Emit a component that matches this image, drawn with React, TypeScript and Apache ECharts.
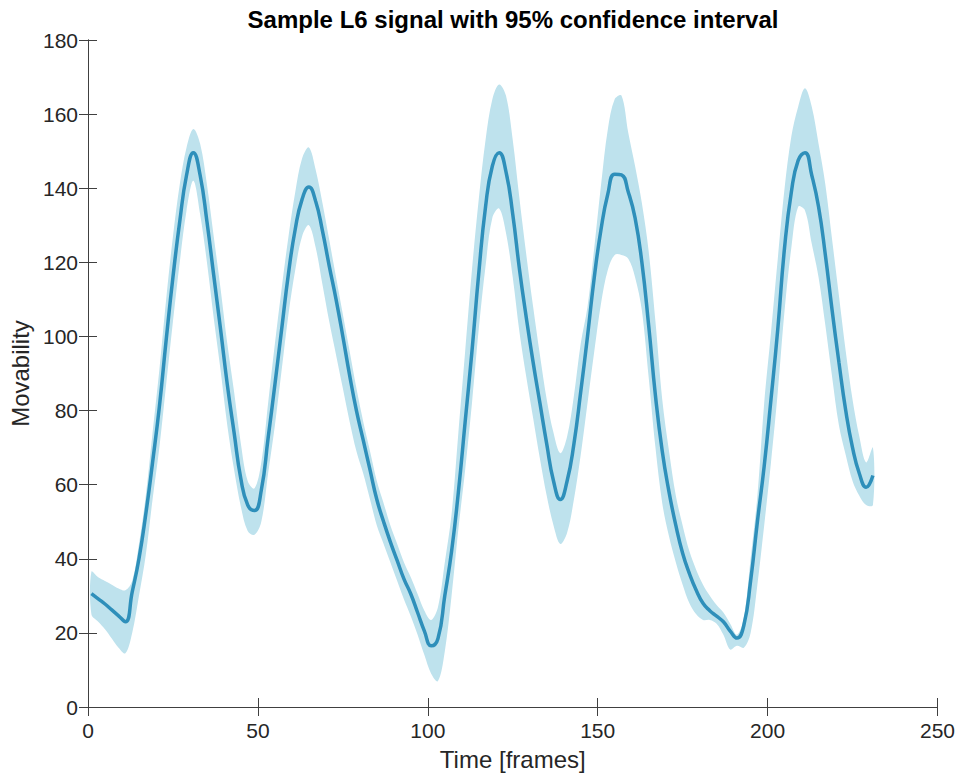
import React, { useEffect, useRef } from "react";
import * as echarts from "echarts";

// Sampled frame positions (every 2 frames)
const frames = [
  1, 3, 5, 7, 9, 11, 13, 15, 17, 19, 21, 23, 25, 27, 29, 31, 33, 35, 37, 39, 41, 43, 45, 47, 49,
  51, 53, 55, 57, 59, 61, 63, 65, 67, 69, 71, 73, 75, 77, 79, 81, 83, 85, 87, 89, 91, 93, 95, 97, 99,
  101, 103, 105, 107, 109, 111, 113, 115, 117, 119, 121, 123, 125, 127, 129, 131, 133, 135, 137,
  139, 141, 143, 145, 147, 149, 151, 153, 155, 157, 159, 161, 163, 165, 167, 169, 171, 173, 175,
  177, 179, 181, 183, 185, 187, 189, 191, 193, 195, 197, 199, 201, 203, 205, 207, 209, 211, 213, 215,
  217, 219, 221, 223, 225, 227, 229, 231,
];

// Mean L6 signal (movability)
const meanSignal = [
  30.6, 29.2, 27.8, 26.2, 24.6, 23.0, 31, 40, 52, 66, 81, 99, 116, 131, 143.5, 149.6, 143.5, 131, 116.5, 102, 87, 74, 61.5, 54.5, 53,
  58.5, 72.5, 87, 102, 117, 129, 137, 140.3, 136.5, 128.5, 119, 110, 100, 89.5, 80, 72, 64, 56, 50, 44.5, 39.5, 34.5, 30.5, 25.5, 20.5,
  16.5, 18.5, 30, 42, 58, 77, 96, 117, 135, 146, 149.6, 144.5, 133, 118, 105, 93, 82, 71, 61,
  56, 61, 71, 85, 100, 116, 129, 138.5, 143.8, 143.6, 139, 132, 120, 103, 84, 69, 58, 49, 41.5,
  36, 31.5, 28, 26, 24.5, 23, 20.5, 18.6, 22, 34, 50, 65, 83, 102, 124, 139, 147.5, 149.6, 143.5, 135,
  122, 107, 93, 80, 70, 63, 59.3, 62.5,
];

// Lower bound of the 95% confidence interval
const lowerBound = [
  25, 23, 21, 18.5, 16, 14.5, 20, 30, 41, 56, 70, 87, 104, 120, 134, 142, 133, 120, 105, 91, 76, 64, 54, 47.5, 46.5,
  50, 63, 76, 91, 106, 118, 127, 130, 124, 114, 104, 95, 86, 77, 69, 63, 56, 49, 44, 39, 34, 29, 24.5, 19.5, 14,
  9, 7, 15, 30, 48, 64, 82, 102, 119, 132, 134.5, 128, 116, 101, 89, 78, 67, 57, 49,
  44, 47, 56, 68, 82, 96, 109, 118, 122, 122, 121, 116, 107, 89, 70, 55, 46, 39, 33,
  28, 25, 23.5, 23.5, 22.5, 19.5, 15.5, 16.5, 16, 20, 33, 49, 66, 85, 107, 124, 135, 134, 125, 116,
  103, 89, 76, 68, 61, 57, 54.5, 54.5,
];

// Upper bound of the 95% confidence interval
const upperBound = [
  36.5, 35, 34, 33, 32, 31.5, 34, 44, 57, 74, 91, 110, 127, 141, 151, 156, 152, 141, 127, 113, 98, 85, 71, 61, 59,
  66, 82, 98, 113, 127, 139, 148, 151, 145, 136, 126, 116, 106, 96, 86, 77, 69, 61, 55, 49, 44, 39, 35, 30.5, 26,
  23.5, 27, 39, 52, 74, 96, 118, 137, 153, 164, 168, 165, 153, 137, 122, 108, 95, 83, 74,
  68.5, 73, 84, 98, 108, 124, 141, 156, 164, 165, 155, 146, 136, 123, 104, 83, 69, 57, 49,
  42, 37, 33, 30, 27.5, 25.5, 22.5, 19.5, 24, 40, 57, 82, 101, 121, 140, 154, 162, 167, 162, 152,
  141, 126, 111, 96, 83, 73, 66, 70,
];

const xTickValues = [0, 50, 100, 150, 200, 250];
const yTickValues = [0, 20, 40, 60, 80, 100, 120, 140, 160, 180];

const FONT = "'Liberation Sans', Arial, Helvetica, sans-serif";
const AXIS_COLOR = "#404040";
const TEXT_COLOR = "#262626";
const LINE_COLOR = "#2e8fba";
const BAND_COLOR = "#bee2ed";

export default function App() {
  const ref = useRef<HTMLDivElement>(null);

  useEffect(() => {
    document.body.style.margin = "0";
    if (!ref.current) return;
    const chart = echarts.init(ref.current, undefined, { renderer: "svg" });

    const meanPairs = frames.map((f, i) => [f, meanSignal[i]]);

    const xMin = xTickValues[0];
    const xMax = xTickValues[xTickValues.length - 1];
    const xInt = xTickValues[1] - xTickValues[0];
    const yMin = yTickValues[0];
    const yMax = yTickValues[yTickValues.length - 1];
    const yInt = yTickValues[1] - yTickValues[0];

    const baseAxis = {
      axisLine: { show: true, lineStyle: { color: AXIS_COLOR, width: 1 } },
      axisTick: { show: true, inside: true, length: 9, lineStyle: { color: AXIS_COLOR, width: 1 } },
      splitLine: { show: false },
    };

    chart.setOption({
      animation: false,
      backgroundColor: "#ffffff",
      graphic: [
        {
          type: "text",
          x: 513,
          y: 19,
          style: {
            text: "Sample L6 signal with 95% confidence interval",
            align: "center",
            verticalAlign: "middle",
            font: `bold 24px ${FONT}`,
            fill: "#000000",
          },
        },
      ],
      grid: { left: 88, right: 20, top: 40, bottom: 65, containLabel: false },
      xAxis: [
        {
          ...baseAxis,
          type: "value",
          position: "bottom",
          min: xMin,
          max: xMax,
          interval: xInt,
          name: "Time [frames]",
          nameLocation: "middle",
          nameGap: 40,
          nameTextStyle: { color: TEXT_COLOR, fontSize: 24, fontFamily: FONT },
          axisLabel: { color: TEXT_COLOR, fontSize: 21, fontFamily: FONT, margin: 13 },
        },
        {
          ...baseAxis,
          type: "value",
          position: "top",
          min: xMin,
          max: xMax,
          interval: xInt,
          axisLabel: { show: false },
        },
      ],
      yAxis: [
        {
          ...baseAxis,
          type: "value",
          position: "left",
          min: yMin,
          max: yMax,
          interval: yInt,
          name: "Movability",
          nameLocation: "middle",
          nameGap: 54,
          nameTextStyle: { color: TEXT_COLOR, fontSize: 24, fontFamily: FONT },
          axisLabel: { color: TEXT_COLOR, fontSize: 21, fontFamily: FONT, margin: 10 },
        },
        {
          ...baseAxis,
          type: "value",
          position: "right",
          min: yMin,
          max: yMax,
          interval: yInt,
          axisLabel: { show: false },
        },
      ],
      series: [
        {
          type: "custom",
          name: "ci",
          silent: true,
          clip: true,
          z: 1,
          data: [[frames[0], meanSignal[0]]],
          renderItem: (_params: any, api: any) => {
            const pts: number[][] = [];
            for (let i = 0; i < frames.length; i++) {
              pts.push(api.coord([frames[i], upperBound[i]]));
            }
            for (let i = frames.length - 1; i >= 0; i--) {
              pts.push(api.coord([frames[i], lowerBound[i]]));
            }
            return {
              type: "polygon",
              shape: { points: pts, smooth: 0.35 },
              style: { fill: BAND_COLOR, stroke: "none" },
            };
          },
        },
        {
          type: "line",
          name: "mean",
          data: meanPairs,
          symbol: "none",
          smooth: 0.5,
          silent: true,
          lineStyle: { color: LINE_COLOR, width: 3.5 },
          z: 3,
        },
      ],
    });

    return () => chart.dispose();
  }, []);

  return <div ref={ref} style={{ width: 958, height: 776 }} />;
}
